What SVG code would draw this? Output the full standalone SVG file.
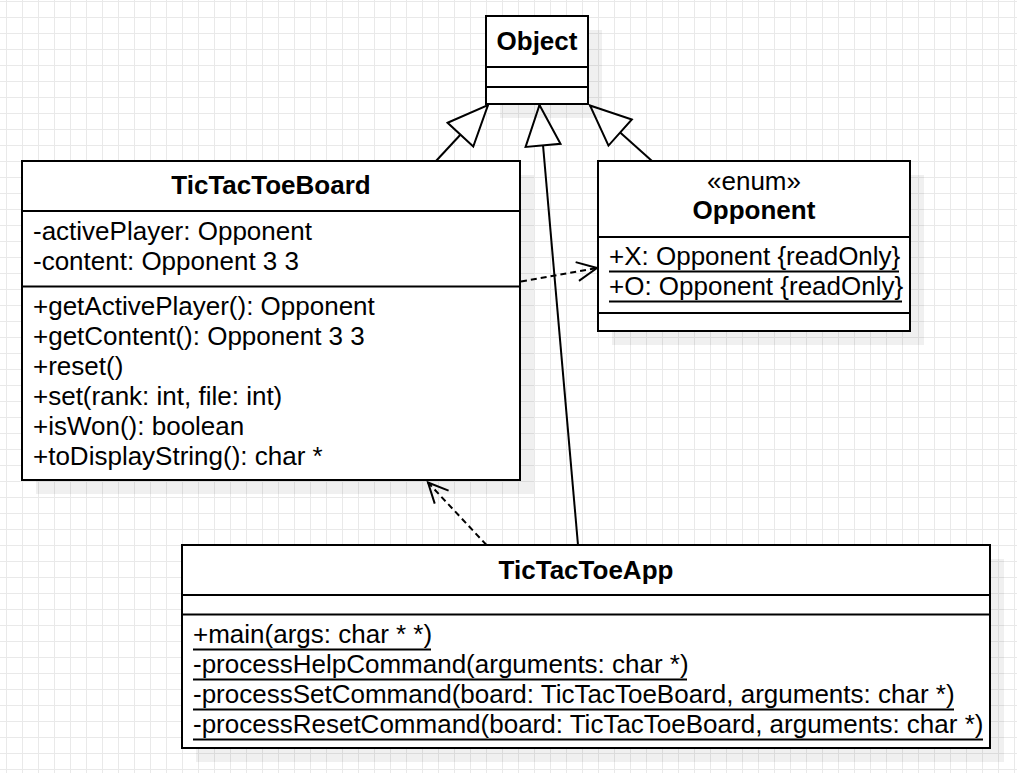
<svg xmlns="http://www.w3.org/2000/svg" width="1017" height="773" viewBox="0 0 1017 773">
<style>
.box{fill:#fff;stroke:#000;stroke-width:2}
.sep{stroke:#000;stroke-width:2}
.shadow{fill:#000;fill-opacity:0.06}
.t{font-family:"Liberation Sans",Arial,Helvetica,sans-serif;font-size:26px;fill:#000}
.b{font-weight:bold}
.c{text-anchor:middle}
.ul{stroke:#000;stroke-width:2}
.gen{fill:none;stroke:#000;stroke-width:2;marker-end:url(#tri)}
.dep{fill:none;stroke:#000;stroke-width:2;stroke-dasharray:6 4;marker-end:url(#open)}
</style>
<defs>
<pattern id="grid" x="6" y="1" width="16" height="16" patternUnits="userSpaceOnUse">
<rect x="0" y="0" width="16" height="1" fill="#e9e9e9"/>
<rect x="0" y="0" width="1" height="16" fill="#e9e9e9"/>
</pattern>
<marker id="tri" viewBox="0 0 44 38" refX="42" refY="19" markerWidth="44" markerHeight="38" markerUnits="userSpaceOnUse" orient="auto">
<path d="M1.5,1.5 L42,19 L1.5,36.5 Z" fill="#fff" stroke="#000" stroke-width="2" stroke-dasharray="none"/>
</marker>
<marker id="open" viewBox="0 0 24 24" refX="21" refY="12" markerWidth="24" markerHeight="24" markerUnits="userSpaceOnUse" orient="auto">
<path d="M1,2.5 L21,12 L1,21.5" fill="none" stroke="#000" stroke-width="2" stroke-dasharray="none"/>
</marker>
</defs>
<rect width="1017" height="773" fill="#fff"/>
<rect width="1017" height="773" fill="url(#grid)"/>

<g id="connectors">
<line class="gen" x1="436" y1="161" x2="488" y2="105"/>
<line class="gen" x1="578" y1="545" x2="539.5" y2="105"/>
<line class="gen" x1="652" y1="161" x2="590" y2="105.5"/>
<line class="dep" x1="521" y1="281.5" x2="597" y2="268"/>
<line class="dep" x1="486.5" y1="545" x2="428" y2="482.5"/>
</g>

<g id="Object">
<rect class="shadow" x="500" y="30" width="102" height="88"/>
<rect class="box" x="486" y="16" width="102" height="88"/>
<line class="sep" x1="486" y1="67" x2="588" y2="67"/>
<line class="sep" x1="486" y1="87" x2="588" y2="87"/>
<text class="t b c" x="537" y="50">Object</text>
</g>

<g id="TicTacToeBoard">
<rect class="shadow" x="36" y="175" width="498" height="319"/>
<rect class="box" x="22" y="161" width="498" height="319"/>
<line class="sep" x1="22" y1="211" x2="520" y2="211"/>
<line class="sep" x1="22" y1="286.5" x2="520" y2="286.5"/>
<text class="t b c" x="271" y="194">TicTacToeBoard</text>
<text class="t" x="33" y="240">-activePlayer: Opponent</text>
<text class="t" x="33" y="270">-content: Opponent 3 3</text>
<text class="t" x="33" y="315">+getActivePlayer(): Opponent</text>
<text class="t" x="33" y="345">+getContent(): Opponent 3 3</text>
<text class="t" x="33" y="375">+reset()</text>
<text class="t" x="33" y="405">+set(rank: int, file: int)</text>
<text class="t" x="33" y="435">+isWon(): boolean</text>
<text class="t" x="33" y="465">+toDisplayString(): char *</text>
</g>

<g id="Opponent">
<rect class="shadow" x="612" y="175" width="312" height="170"/>
<rect class="box" x="598" y="161" width="312" height="170"/>
<line class="sep" x1="598" y1="237" x2="910" y2="237"/>
<line class="sep" x1="598" y1="313" x2="910" y2="313"/>
<text class="t c" x="754" y="189.5">«enum»</text>
<text class="t b c" x="754" y="219">Opponent</text>
<text class="t" x="609" y="265">+X: Opponent {readOnly}</text>
<line class="ul" x1="609" y1="271.5" x2="899" y2="271.5"/>
<text class="t" x="609" y="295">+O: Opponent {readOnly}</text>
<line class="ul" x1="609" y1="301.5" x2="902" y2="301.5"/>
</g>

<g id="TicTacToeApp">
<rect class="shadow" x="196" y="559" width="808" height="203"/>
<rect class="box" x="182" y="545" width="808" height="203"/>
<line class="sep" x1="182" y1="595" x2="990" y2="595"/>
<line class="sep" x1="182" y1="614.5" x2="990" y2="614.5"/>
<text class="t b c" x="586" y="579">TicTacToeApp</text>
<text class="t" x="193" y="643">+main(args: char * *)</text>
<line class="ul" x1="193" y1="649.5" x2="431" y2="649.5"/>
<text class="t" x="193" y="673">-processHelpCommand(arguments: char *)</text>
<line class="ul" x1="193" y1="679.5" x2="687" y2="679.5"/>
<text class="t" x="193" y="703">-processSetCommand(board: TicTacToeBoard, arguments: char *)</text>
<line class="ul" x1="193" y1="709.5" x2="954" y2="709.5"/>
<text class="t" x="193" y="733">-processResetCommand(board: TicTacToeBoard, arguments: char *)</text>
<line class="ul" x1="193" y1="739.5" x2="983" y2="739.5"/>
</g>
</svg>
